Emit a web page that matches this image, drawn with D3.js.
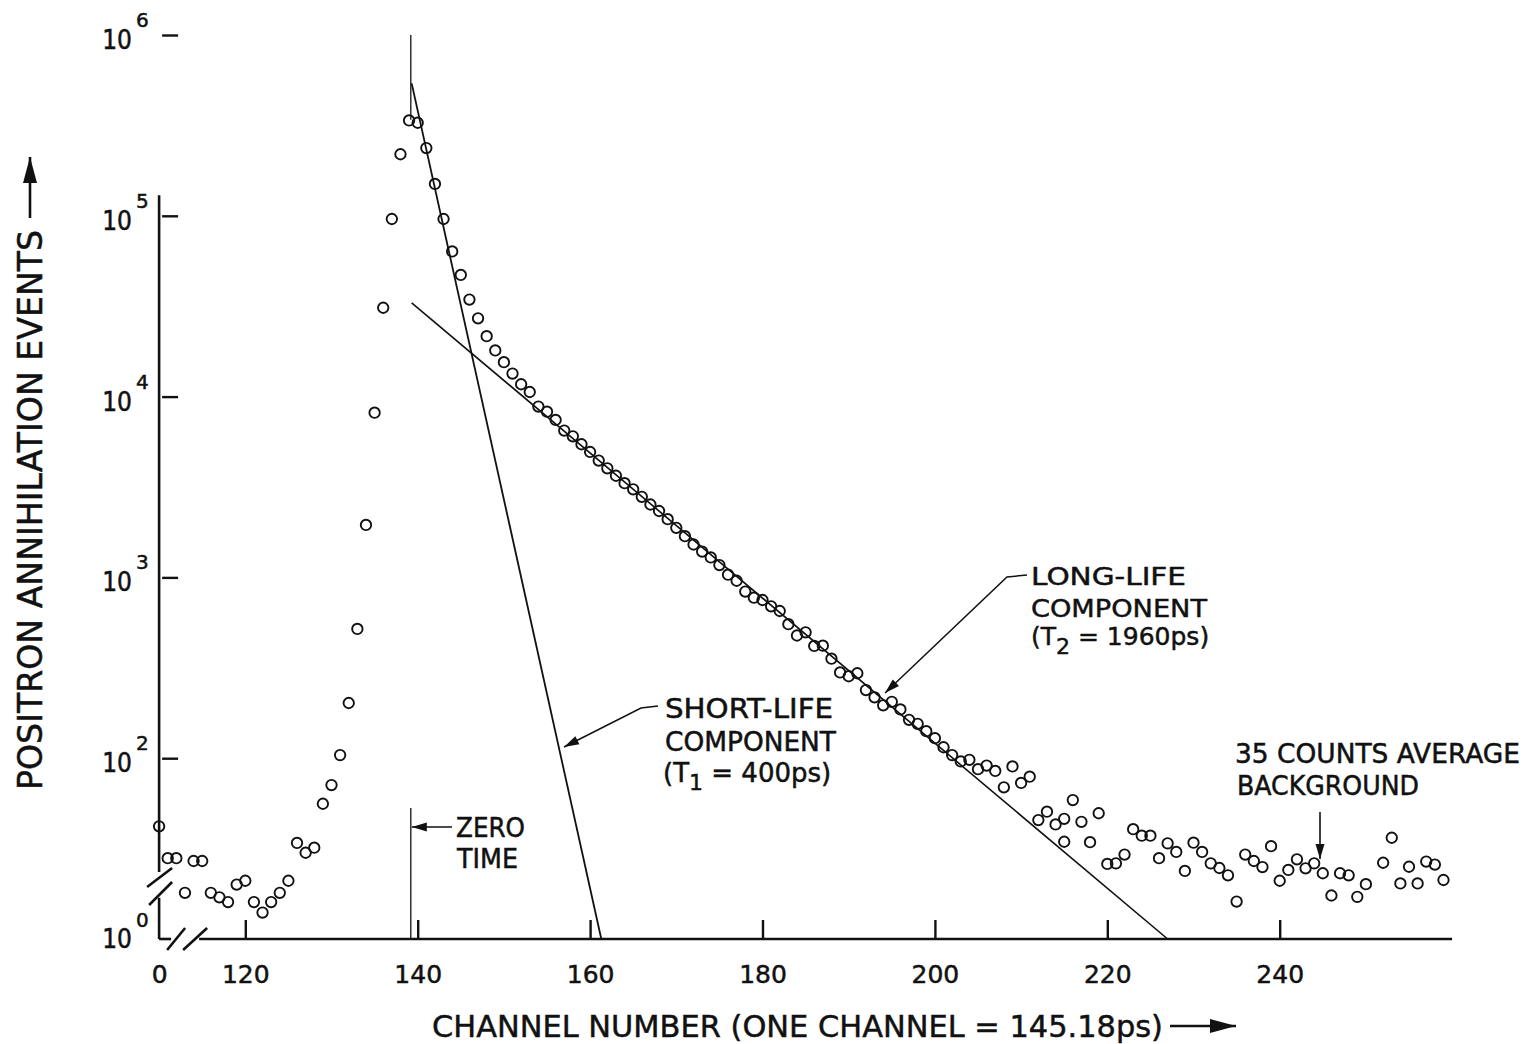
<!DOCTYPE html>
<html>
<head>
<meta charset="utf-8">
<script src="https://cdnjs.cloudflare.com/ajax/libs/d3/7.8.5/d3.min.js"></script>
<style>
  body { margin: 0; background: #fff; }
  text { font-family: "DejaVu Sans", sans-serif; fill: #111; stroke: #111; stroke-width: 0.5px; }
</style>
</head>
<body>
<script>
// positron lifetime spectrum, counts per channel
const firstChannel = 110;
const counts = [
  42, 28, 28, 18, 27, 27, 18, 17, 16, 20,                      // 110-119
  21, 16, 14, 16, 18, 21, 34, 30, 32, 56,                      // 120-129
  71, 104, 202, 519, 1950, 8150, 31000, 96000, 219000, 337000, // 130-139
  327000, 237000, 150000, 96000, 63500, 47100, 34400, 27100, 21600, 18000, // 140-149
  15500, 13400, 11700, 10600, 8810, 8250, 7430, 6490, 6030, 5450, // 150-159
  4940, 4430, 4010, 3650, 3320, 3070, 2790, 2530, 2330, 2100,  // 160-169
  1880, 1690, 1520, 1390, 1290, 1170, 1035, 958, 835, 772,     // 170-179
  750, 692, 652, 551, 477, 497, 418, 419, 355, 298,            // 180-189
  284, 295, 238, 217, 196, 205, 186, 163, 155, 141,            // 190-199
  129, 115, 104, 96, 98, 87, 91, 85, 69, 90,                   // 200-209
  73, 79, 45.5, 50.6, 43, 46.2, 58.7, 44.5, 34.3, 49.6,        // 210-219
  26, 26.2, 29.3, 40.5, 37.3, 37.3, 28, 33.8, 30.3, 23.8,      // 220-229
  34.1, 30.3, 26.2, 24.7, 22.5, 16.1, 29.3, 27, 25, 32.6,      // 230-239
  21, 24.1, 27.6, 24.6, 26.2, 23.1, 17.4, 23.1, 22.5, 17.1,    // 240-249
  20.1, null, 26.4, 36.3, 20.3, 25.1, 20.3, 26.8, 25.8, 21.2   // 250-259
];
// a second point plotted on channel 215
const extraPoints = [{ channel: 215, count: 34.5 }];

// fitted components (end points)
const shortLife = [{ channel: 139.3, count: 540000 }, { channel: 161.3, count: 10 }];
const longLife = [{ channel: 139.3, count: 33000 }, { channel: 227.0, count: 10 }];
const zeroChannel = 139.2;

const xTicks = [110, 120, 140, 160, 180, 200, 220, 240];
const xTickLabels = ["0", "120", "140", "160", "180", "200", "220", "240"];
const yTicks = [10, 1e2, 1e3, 1e4, 1e5, 1e6];
const yTickExp = ["0", "2", "3", "4", "5", "6"];

const W = 1528, H = 1044;
const svg = d3.select("body").append("svg")
  .attr("width", W).attr("height", H);

const x = d3.scaleLinear().domain([110, 260]).range([159.1, 1452.1]);
const y = d3.scaleLog().domain([10, 1e6]).range([939, 35]);

const x0 = x(110), yb = y(10);

// x axis
const xAxis = d3.axisBottom(x)
  .tickValues(xTicks)
  .tickSize(-19)
  .tickPadding(26)
  .tickFormat((d, i) => xTickLabels[i]);
const gx = svg.append("g").attr("transform", `translate(0,${yb})`).call(xAxis);
gx.select(".domain").remove();
gx.selectAll(".tick line").attr("stroke", "#111").attr("stroke-width", 2.4);
gx.selectAll(".tick text").attr("font-size", 25).attr("fill", "#111")
  .style("font-family", "DejaVu Sans");
gx.selectAll(".tick").filter(d => d === 110).select("line").remove();

// y axis
const yAxis = d3.axisLeft(y)
  .tickValues(yTicks.filter(d => d > 10))
  .tickSize(-19)
  .tickFormat("");
const gy = svg.append("g").attr("transform", `translate(${x0},0)`).call(yAxis);
gy.select(".domain").remove();
gy.selectAll(".tick line").attr("stroke", "#111").attr("stroke-width", 2.4)
  .attr("x1", 3);

// "10" and its exponent
const yl = svg.append("g");
yl.selectAll("text.base").data(yTicks).enter().append("text")
  .attr("class", "base")
  .attr("x", 132).attr("y", d => y(d) + (d === 10 ? 9 : 14))
  .attr("text-anchor", "end")
  .attr("font-size", 26)
  .style("font-family", "'DejaVu Sans Condensed', 'DejaVu Sans', sans-serif")
  .text("10");
yl.selectAll("text.exp").data(yTicks).enter().append("text")
  .attr("class", "exp")
  .attr("x", 136).attr("y", d => y(d) - (d === 10 ? 12 : 8))
  .attr("font-size", 20)
  .text((d, i) => yTickExp[i]);

// axis lines with breaks
const axisPaths = [
  [[x0, y(1.3e5)], [x0, y(23.5)]],
  [[x0, y(16.9)], [x0, yb]],
  [[x0, yb], [x0 + 12, yb]],
  [[x0 + 40, yb], [x(260), yb]],
  // break marks
  [[x0 + 8, yb + 11], [x0 + 26, yb - 11]],
  [[x0 + 24, yb + 11], [x0 + 48, yb - 11]],
  [[x0 - 12, 887], [x0 + 13, 868]],
  [[x0 - 10, 905], [x0 + 13, 882]]
];
svg.append("g").selectAll("path").data(axisPaths).enter().append("path")
  .attr("d", d3.line())
  .attr("fill", "none").attr("stroke", "#111").attr("stroke-width", 2.6);

// fitted lines
const fitLine = d3.line().x(d => x(d.channel)).y(d => y(d.count));
svg.append("path").datum(shortLife).attr("d", fitLine)
  .attr("fill", "none").attr("stroke", "#111").attr("stroke-width", 1.8);
svg.append("path").datum(longLife).attr("d", fitLine)
  .attr("fill", "none").attr("stroke", "#111").attr("stroke-width", 1.6);

// zero-time marker
svg.append("path").datum([{ channel: zeroChannel, count: 1e6 }, { channel: zeroChannel, count: 3.4e5 }])
  .attr("d", fitLine).attr("stroke", "#111").attr("stroke-width", 1.3);
svg.append("path").datum([{ channel: zeroChannel, count: 53 }, { channel: zeroChannel, count: 10 }])
  .attr("d", fitLine).attr("stroke", "#111").attr("stroke-width", 1.3);

// data points
const pts = counts.map((c, i) => ({ channel: firstChannel + i, count: c }))
  .filter(d => d.count != null)
  .concat(extraPoints);
svg.append("g").selectAll("circle").data(pts).enter().append("circle")
  .attr("cx", d => x(d.channel))
  .attr("cy", d => y(d.count))
  .attr("r", 5.2)
  .attr("fill", "none").attr("stroke", "#111").attr("stroke-width", 1.9);

// arrow helper
function arrow(points, width, L, hw) {
  svg.append("path").attr("d", d3.line()(points))
    .attr("fill", "none").attr("stroke", "#111").attr("stroke-width", width || 1.6);
  const [a, b] = points.slice(-2);
  const ang = Math.atan2(b[1] - a[1], b[0] - a[0]);
  L = L || 15; hw = hw || 4.5;
  const bx = b[0] - L * Math.cos(ang), by = b[1] - L * Math.sin(ang);
  const nx = -Math.sin(ang) * hw, ny = Math.cos(ang) * hw;
  svg.append("path")
    .attr("d", `M${b[0]},${b[1]}L${bx + nx},${by + ny}L${bx - nx},${by - ny}Z`)
    .attr("fill", "#111");
}

function label(txt, xx, yy, size, len) {
  return svg.append("text").attr("x", xx).attr("y", yy)
    .attr("font-size", size)
    .attr("textLength", len).attr("lengthAdjust", "spacingAndGlyphs")
    .text(txt);
}

// axis titles
svg.append("text")
  .attr("transform", "translate(42,790) rotate(-90)")
  .attr("font-size", 33)
  .attr("textLength", 560).attr("lengthAdjust", "spacingAndGlyphs")
  .text("POSITRON ANNIHILATION EVENTS");
arrow([[30, 218], [30, 157]], 2.6, 26, 7);

label("CHANNEL NUMBER (ONE CHANNEL = 145.18ps)", 432, 1037, 31, 731);
arrow([[1170, 1026], [1236, 1026]], 2.6, 26, 7);

// zero time
label("ZERO", 456, 837, 26, 69);
label("TIME", 457, 868, 26, 61);
arrow([[452, 827], [x(zeroChannel) + 1, 827]], 1.6);

// short-life annotation
label("SHORT-LIFE", 665, 718, 26, 168);
label("COMPONENT", 665, 751, 26, 171);
const tS = svg.append("text").attr("x", 663).attr("y", 782).attr("font-size", 26);
tS.append("tspan").text("(T");
tS.append("tspan").attr("dy", 8).attr("font-size", 22).text("1");
tS.append("tspan").attr("dy", -8).text(" = 400ps)");
arrow([[658, 706], [641, 708], [564, 747]], 1.5);

// long-life annotation
label("LONG-LIFE", 1031, 585, 25, 155);
label("COMPONENT", 1031, 617, 25, 176);
const tL = svg.append("text").attr("x", 1031).attr("y", 645).attr("font-size", 25);
tL.append("tspan").text("(T");
tL.append("tspan").attr("dy", 9).attr("font-size", 22).text("2");
tL.append("tspan").attr("dy", -9).text(" = 1960ps)");
arrow([[1027, 575], [1007, 577], [885, 693]], 1.5);

// background annotation
label("35 COUNTS AVERAGE", 1235, 763, 26, 285);
label("BACKGROUND", 1237, 795, 26, 182);
arrow([[1320, 812], [1320, 859]], 1.6);
</script>
</body>
</html>
